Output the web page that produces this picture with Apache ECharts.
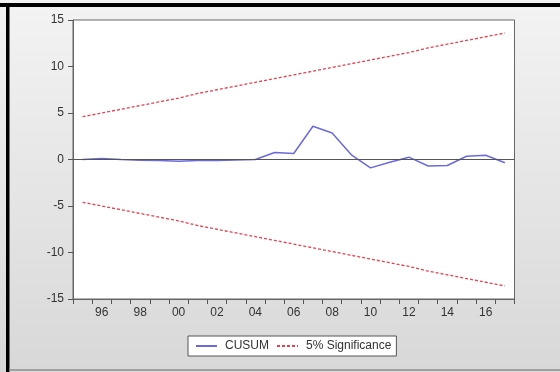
<!DOCTYPE html>
<html>
<head>
<meta charset="utf-8">
<script src="https://cdn.jsdelivr.net/npm/echarts@6/dist/echarts.min.js"></script>
<style>
html,body{margin:0;padding:0;background:#fff;}
#main{width:560px;height:372px;}
</style>
</head>
<body>
<div id="main"></div>
<script>
var years = ['95','96','97','98','99','00','01','02','03','04','05','06','07','08','09','10','11','12','13','14','15','16','17'];
var cusum = [0, 0.1, 0, -0.07, -0.1, -0.2, -0.1, -0.1, -0.05, 0, 0.75, 0.65, 3.57, 2.85, 0.5, -0.9, -0.3, 0.25, -0.7, -0.65, 0.35, 0.45, -0.35];
var upper = [4.6, 5.0, 5.4, 5.8, 6.2, 6.6, 7.1, 7.5, 7.9, 8.3, 8.7, 9.1, 9.5, 9.9, 10.3, 10.7, 11.1, 11.5, 12.0, 12.4, 12.8, 13.2, 13.6];
var lower = [-4.6, -5.0, -5.4, -5.8, -6.2, -6.6, -7.1, -7.5, -7.9, -8.3, -8.7, -9.1, -9.5, -9.9, -10.3, -10.7, -11.1, -11.5, -12.0, -12.4, -12.8, -13.2, -13.6];

var chart = echarts.init(document.getElementById('main'), null, {renderer:'canvas'});
var txt = '#333333';
var font = 'Liberation Sans, Arial, sans-serif';
chart.setOption({
  animation: false,
  backgroundColor: {
    type: 'linear', x: 0, y: 0, x2: 0, y2: 1,
    colorStops: [{offset: 0, color: '#f3f3f3'}, {offset: 1, color: '#d8d8d8'}]
  },
  graphic: [
    {type: 'rect', shape: {x: 0, y: 3, width: 560, height: 4}, style: {fill: '#000'}, silent: true, z: 100},
    {type: 'rect', shape: {x: 6, y: 3, width: 3.5, height: 369}, style: {fill: '#000'}, silent: true, z: 100},
    {type: 'rect', shape: {x: 9.5, y: 369, width: 551, height: 2}, style: {fill: '#a0a0a0'}, silent: true, z: 100}
  ],
  grid: {
    left: 73, right: 45.5, top: 20, bottom: 73,
    show: true, backgroundColor: '#ffffff', borderColor: '#666666', borderWidth: 1,
    containLabel: false
  },
  legend: {
    top: 336, left: 188,
    backgroundColor: '#ffffff', borderColor: '#555555', borderWidth: 1,
    borderRadius: 0,
    padding: [4, 5, 4, 7],
    itemGap: 7, itemWidth: 21, itemHeight: 10,
    itemStyle: {opacity: 0},
    textStyle: {color: txt, fontSize: 12, fontFamily: font, padding: [0, 0, 0, 3]},
    data: ['CUSUM', '5% Significance']
  },
  xAxis: {
    type: 'category', data: years, boundaryGap: true,
    axisLine: {show: true, onZero: false, lineStyle: {color: '#666666'}},
    axisTick: {show: true, interval: 0, length: 5, inside: false, lineStyle: {color: '#555555'}},
    axisLabel: {
      interval: function (i) { return i % 2 === 1; },
      color: txt, fontSize: 12, fontFamily: font, margin: 8
    },
    splitLine: {show: false}
  },
  yAxis: {
    type: 'value', min: -15, max: 15, interval: 5,
    axisLine: {show: true, lineStyle: {color: '#666666'}},
    axisTick: {show: true, length: 5, lineStyle: {color: '#555555'}},
    axisLabel: {color: txt, fontSize: 12, fontFamily: font, margin: 9},
    splitLine: {show: false}
  },
  series: [
    {
      name: 'CUSUM', type: 'line', data: cusum, symbol: 'none',
      lineStyle: {color: '#6a6ade', width: 1.5}, itemStyle: {color: '#6a6ade'},
      z: 3,
      markLine: {
        silent: true, symbol: 'none', label: {show: false},
        lineStyle: {color: '#555555', type: 'solid', width: 1},
        data: [{yAxis: 0}]
      }
    },
    {
      name: '5% Significance', type: 'line', data: upper, symbol: 'none',
      lineStyle: {color: '#e8404e', width: 1.3, type: [3, 2]}, itemStyle: {color: '#e8404e'}
    },
    {
      name: '5% Significance', type: 'line', data: lower, symbol: 'none',
      lineStyle: {color: '#e8404e', width: 1.3, type: [3, 2]}, itemStyle: {color: '#e8404e'}
    }
  ]
});
</script>
</body>
</html>
